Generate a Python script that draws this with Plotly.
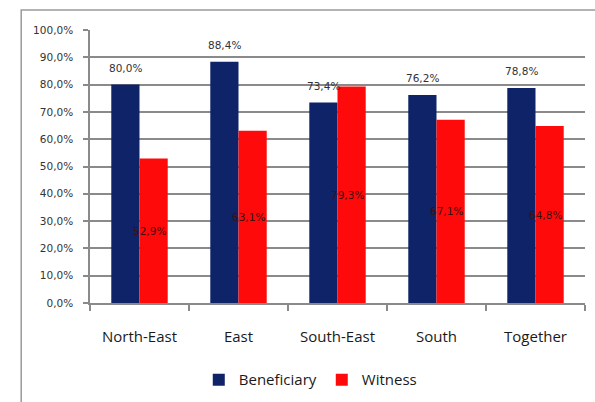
import plotly.graph_objects as go

regions = ["North-East", "East", "South-East", "South", "Together"]
beneficiary = [80.0, 88.4, 73.4, 76.2, 78.8]
witness = [52.9, 63.1, 79.3, 67.1, 64.8]
y_ticks = [0, 10, 20, 30, 40, 50, 60, 70, 80, 90, 100]

NAVY = "#0f2468"
RED = "#ff0a0a"
GRID = "#8a8a8a"
LABEL_FONT = "DejaVu Sans"


def pct(v):
    return f"{v:.1f}%".replace(".", ",")


fig = go.Figure()
fig.add_trace(go.Bar(
    name="Beneficiary", x=regions, y=beneficiary,
    marker=dict(color=NAVY, line=dict(width=0)),
    hoverinfo="skip",
))
fig.add_trace(go.Bar(
    name="Witness", x=regions, y=witness,
    marker=dict(color=RED, line=dict(width=0)),
    hoverinfo="skip",
))

# value labels above the Beneficiary bars
for r, v in zip(regions, beneficiary):
    fig.add_annotation(
        x=r, y=v, xref="x", yref="y", text=pct(v),
        showarrow=False, xshift=-14, yshift=17,
        font=dict(family=LABEL_FONT, size=10.5, color="#333333"),
    )

# value labels centred inside the Witness bars
for r, v in zip(regions, witness):
    fig.add_annotation(
        x=r, y=v / 2, xref="x", yref="y", text=pct(v),
        showarrow=False, xshift=10,
        font=dict(family=LABEL_FONT, size=10.5, color="#3a1010"),
    )

# outer frame
fig.add_shape(type="rect", xref="paper", yref="paper",
              x0=-0.139, x1=1.05, y0=-0.45, y1=1.073,
              line=dict(color="#9a9a9a", width=1.5), fillcolor="rgba(0,0,0,0)")

fig.update_layout(
    width=595, height=402,
    margin=dict(l=90, r=10, t=30, b=99),
    paper_bgcolor="white", plot_bgcolor="white",
    barmode="group", bargap=0.43, bargroupgap=0,
    legend=dict(orientation="h", x=0.445, xanchor="center",
                yref="container", y=0.055, yanchor="middle",
                font=dict(family="Open Sans", size=15, color="#1a1a1a"),
                itemwidth=30, traceorder="normal"),
    showlegend=True,
)
fig.update_xaxes(
    showline=True, linecolor=GRID, linewidth=1.5,
    ticks="outside", tickson="boundaries", ticklen=6, tickcolor=GRID, tickwidth=1.5,
    tickfont=dict(family="Open Sans", size=15, color="#1a1a1a"),
    ticklabelstandoff=19, automargin=False,
    showgrid=False,
)
fig.update_yaxes(
    range=[0, 100], tickvals=y_ticks,
    ticktext=[pct(t) for t in y_ticks],
    showline=True, linecolor=GRID, linewidth=1.5,
    ticks="outside", ticklen=5, tickcolor=GRID, tickwidth=1.5,
    showgrid=True, gridcolor=GRID, gridwidth=1.8,
    tickfont=dict(family=LABEL_FONT, size=10.5, color="#333333"),
    ticklabelstandoff=8,
    zeroline=False, automargin=False,
)

fig.write_html("out.html")
